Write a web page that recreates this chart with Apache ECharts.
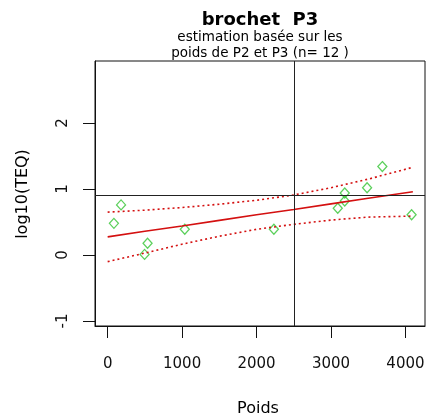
<!DOCTYPE html>
<html><head><meta charset="utf-8">
<script src="https://cdn.jsdelivr.net/npm/echarts@6/dist/echarts.min.js"></script>
<style>html,body{margin:0;padding:0;background:#fff}#c{width:427px;height:419px}</style>
</head><body><div id="c"></div>
<script>
// Observed points (Poids, log10(TEQ))
const poids = [84, 180, 496, 536, 1036, 2233, 3091, 3185, 3185, 3485, 3690, 4083];
const logTEQ = [0.48, 0.76, 0.01, 0.18, 0.39, 0.39, 0.71, 0.82, 0.94, 1.02, 1.34, 0.61];
// Fitted regression line and confidence band
const bandX = [0, 500, 1000, 1500, 2000, 2500, 3000, 3500, 4100];
const fitY = [0.275, 0.36, 0.44, 0.525, 0.61, 0.69, 0.775, 0.86, 0.96];
const upperY = [0.65, 0.68, 0.72, 0.77, 0.83, 0.91, 1.02, 1.15, 1.33];
const lowerY = [-0.10, 0.03, 0.165, 0.285, 0.39, 0.465, 0.53, 0.575, 0.59];
// Reference lines
const refX = [2500];
const refY = [0.903];
// Ticks
const xTicks = [0, 1000, 2000, 3000, 4000];
const yTicks = [-1, 0, 1, 2];
const titleText = 'brochet  P3';
const subLines = ['estimation basée sur les', 'poids de P2 et P3 (n= 12 )'];
const xName = 'Poids';
const yName = 'log10(TEQ)';

const zip = (a, b) => a.map((v, i) => [v, b[i]]);
const FONT = 'DejaVu Sans';
const RED = '#d41010';
const chart = echarts.init(document.getElementById('c'), null, {renderer: 'canvas'});
chart.setOption({
  animation: false,
  backgroundColor: '#fff',
  grid: {left: 95, top: 61, right: 2, bottom: 93, show: true, borderColor: '#111', borderWidth: 1,
         backgroundColor: 'transparent', containLabel: false, outerBoundsMode: 'none'},
  xAxis: {
    type: 'value', min: -170, max: 4263, position: 'bottom',
    splitLine: {show: false},
    axisLine: {show: true, onZero: false, lineStyle: {color: '#111', width: 1}},
    axisTick: {show: true, inside: false, customValues: xTicks, length: 12, lineStyle: {color: '#111', width: 1}},
    axisLabel: {show: true, inside: false, customValues: xTicks, margin: 31, color: '#111', fontFamily: FONT, fontSize: 15,
                formatter: v => String(v)}
  },
  yAxis: {
    type: 'value', min: -1.075, max: 2.94, position: 'left',
    splitLine: {show: false},
    axisLine: {show: true, onZero: false, lineStyle: {color: '#111', width: 1}},
    axisTick: {show: true, inside: false, customValues: yTicks, length: 12, lineStyle: {color: '#111', width: 1}},
    axisLabel: {show: true, inside: false, customValues: yTicks, margin: 24, rotate: 90, color: '#111', fontFamily: FONT, fontSize: 15,
                formatter: v => String(v)}
  },
  graphic: [
    {type: 'text', x: 260, y: 20, style: {text: titleText, align: 'center', verticalAlign: 'middle',
      font: 'bold 18px "DejaVu Sans"', fill: '#000'}},
    {type: 'text', x: 260, y: 37, style: {text: subLines[0], align: 'center', verticalAlign: 'middle',
      font: '13.5px "DejaVu Sans"', fill: '#000'}},
    {type: 'text', x: 260, y: 53, style: {text: subLines[1], align: 'center', verticalAlign: 'middle',
      font: '13.5px "DejaVu Sans"', fill: '#000'}},
    {type: 'text', x: 258, y: 409, style: {text: xName, align: 'center', verticalAlign: 'middle',
      font: '16px "DejaVu Sans"', fill: '#000'}},
    {type: 'text', x: 23, y: 194, rotation: Math.PI / 2, style: {text: yName, align: 'center', verticalAlign: 'middle',
      font: '16px "DejaVu Sans"', fill: '#000'}}
  ],
  series: [
    {type: 'line', data: zip(bandX, upperY), symbol: 'none', silent: true, z: 3,
     lineStyle: {color: RED, width: 1.6, type: [2, 3]}},
    {type: 'line', data: zip(bandX, lowerY), symbol: 'none', silent: true, z: 3,
     lineStyle: {color: RED, width: 1.6, type: [2, 3]}},
    {type: 'line', data: zip(bandX, fitY), symbol: 'none', silent: true, z: 3,
     lineStyle: {color: RED, width: 1.6}},
    {type: 'scatter', data: zip(poids, logTEQ), symbol: 'diamond', symbolSize: [9, 10], z: 2,
     itemStyle: {color: 'rgba(0,0,0,0)', borderColor: '#33c433', borderWidth: 1.3},
     markLine: {silent: true, symbol: 'none', label: {show: false},
       lineStyle: {color: '#222', width: 1, type: 'solid'},
       data: [{xAxis: refX[0]}, {yAxis: refY[0]}]}}
  ]
});
</script></body></html>
